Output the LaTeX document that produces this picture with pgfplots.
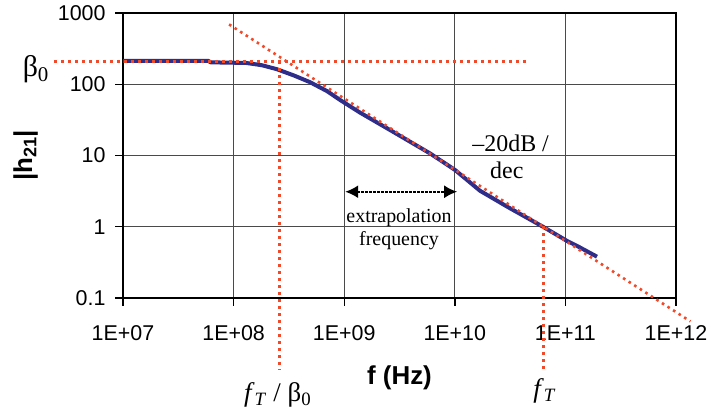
\documentclass[border=0pt]{standalone}
\usepackage{fontspec}
\setmainfont{Liberation Serif}
\setsansfont{Liberation Sans}
\usepackage{pgfplots}
\pgfplotsset{compat=1.18}
\usetikzlibrary{arrows.meta}

\definecolor{curveblue}{HTML}{2E2D8A}
\definecolor{dotred}{HTML}{F04A2A}
\definecolor{gridgray}{HTML}{4A4A4A}

\begin{document}
\begin{tikzpicture}
\begin{axis}[
    scale only axis,
    width=553bp, height=285bp,
    xmode=log, ymode=log,
    xmin=1e7, xmax=1e12,
    ymin=0.1, ymax=1000,
    xtick={1e7,1e8,1e9,1e10,1e11,1e12},
    xticklabels={1E+07,1E+08,1E+09,1E+10,1E+11,1E+12},
    ytick={0.1,1,10,100,1000},
    yticklabels={0.1,1,10,100,1000},
    xminorticks=false, yminorticks=false,
    grid=major,
    major grid style={gridgray, line width=0.9bp},
    axis line style={black, line width=1.4bp},
    tick style={black, line width=1.4bp},
    tick align=outside,
    xtick pos=left, ytick pos=left,
    major tick length=8bp,
    ticklabel style={font=\sffamily\fontsize{21.5}{24}\selectfont},
    xticklabel style={yshift=-16bp},
    yticklabel style={xshift=-6bp},
    xlabel={f (Hz)},
    ylabel={|h\textsubscript{21}|},
    xlabel style={font=\sffamily\bfseries\fontsize{26}{30}\selectfont, yshift=-18bp},
    ylabel style={font=\sffamily\bfseries\fontsize{26}{30}\selectfont, yshift=13bp},
    clip=false,
]

% measured |h21|
\addplot[curveblue, line width=4bp, line join=round] coordinates {
    (1e7,213) (5.9e7,213) (6.2e7,203) (1.3e8,199) (1.8e8,185)
    (2.45e8,163) (3.5e8,133) (4.9e8,107) (7e8,80) (9.2e8,60)
    (1.39e9,40) (3e9,20) (5.97e9,10.7) (1e10,6.3) (1.69e10,3.2)
    (3e10,1.9) (6.27e10,1.0) (1.03e11,0.635) (1.27e11,0.54) (1.93e11,0.38)
};

% -20 dB/dec asymptote
\addplot[dotred, line width=2.6bp, dash pattern=on 2.6bp off 4bp] coordinates {
    (9.1e7,692) (1.35e12,0.047)
};

% beta0 level
\addplot[dotred, line width=3bp, dash pattern=on 3bp off 4bp] coordinates {
    (2.4e6,211) (4.8e10,211)
};

% fT/beta0 and fT markers
\addplot[dotred, line width=3bp, dash pattern=on 3bp off 4bp] coordinates {
    (2.6e8,211) (2.6e8,0.01)
};
\addplot[dotred, line width=3bp, dash pattern=on 3bp off 4bp] coordinates {
    (6.3e10,1.03) (6.3e10,0.01)
};

% extrapolation arrow
\addplot[black, line width=2bp, dash pattern=on 2.5bp off 1.5bp,
    {Latex[length=13bp,width=13bp]}-{Latex[length=13bp,width=13bp]}] coordinates {
    (1.02e9,3.1) (1.05e10,3.1)
};

\node[font=\fontsize{24}{28}\selectfont] at (axis cs:3.2e10,14.8) {\textendash20dB /};
\node[font=\fontsize{24}{28}\selectfont] at (axis cs:2.95e10,6.15) {dec};
\node[font=\fontsize{20}{24}\selectfont] at (axis cs:3.13e9,1.34) {extrapolation};
\node[font=\fontsize{20}{24}\selectfont] at (axis cs:3.13e9,0.635) {frequency};
\node[font=\fontsize{30}{34}\selectfont] at (axis cs:1.63e6,165) {β\textsubscript{0}};
\node[font=\fontsize{27}{30}\selectfont] at (axis cs:2.5e8,0.0043) {\textit{f}\textsubscript{\textit{T}} / β\textsubscript{0}};
\node[font=\fontsize{27}{30}\selectfont] at (axis cs:6.5e10,0.005) {\textit{f}\textsubscript{\textit{T}}};
\end{axis}
\pgfresetboundingbox
\path[use as bounding box] (-123bp,-117bp) rectangle (589bp,298bp);
\end{tikzpicture}
\end{document}
